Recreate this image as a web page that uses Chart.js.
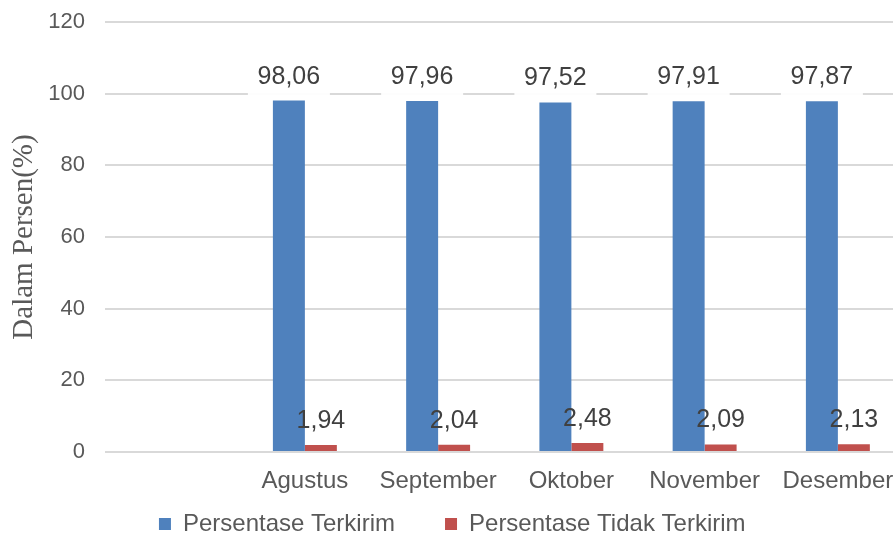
<!DOCTYPE html>
<html>
<head>
<meta charset="utf-8">
<script src="https://cdn.jsdelivr.net/npm/chart.js@4"></script>
<style>
  html, body { margin: 0; padding: 0; background: #fff; overflow: hidden; }
  #wrap { position: relative; width: 906px; height: 546px; }
</style>
</head>
<body>
<div id="wrap"><canvas id="reportChart"></canvas></div>
<script>
// Months (first slot is left empty in the original chart)
const months = ['', 'Agustus', 'September', 'Oktober', 'November', 'Desember'];
const terkirim = [null, 98.06, 97.96, 97.52, 97.91, 97.87];
const tidakTerkirim = [null, 1.94, 2.04, 2.48, 2.09, 2.13];
const yTicks = [0, 20, 40, 60, 80, 100, 120];

const textColor = '#595959';
const sans = '"Liberation Sans", Arial, sans-serif';

// value labels above each bar, comma as decimal separator
const valueLabels = {
  id: 'valueLabels',
  afterDatasetsDraw(chart) {
    const ctx = chart.ctx;
    ctx.save();
    ctx.font = '25px ' + sans;
    ctx.textAlign = 'center';
    ctx.textBaseline = 'middle';
    chart.data.datasets.forEach((ds, i) => {
      const meta = chart.getDatasetMeta(i);
      meta.data.forEach((bar, j) => {
        const v = ds.data[j];
        if (v === null) return;
        const cx = bar.x;
        const cy = bar.y - 24;
        if (i === 0) {
          ctx.fillStyle = 'rgba(255,255,255,0.95)';
          ctx.fillRect(cx - 41, cy - 17, 82, 37);
        }
        ctx.fillStyle = '#404040';
        ctx.fillText(v.toFixed(2).replace('.', ','), cx, cy);
      });
    });
    ctx.restore();
  }
};

document.addEventListener('DOMContentLoaded', function() {
  const ctx = document.getElementById('reportChart').getContext('2d');

  new Chart(ctx, {
    type: 'bar',
    data: {
      labels: months,
      datasets: [
        {
          label: 'Persentase Terkirim',
          data: terkirim,
          backgroundColor: '#4F81BD',
          borderWidth: 0
        },
        {
          label: 'Persentase Tidak Terkirim',
          data: tidakTerkirim,
          backgroundColor: '#C0504D',
          borderWidth: 0
        }
      ]
    },
    options: {
      responsive: true,
      maintainAspectRatio: false,
      animation: false,
      categoryPercentage: 0.48,
      barPercentage: 1.0,
      layout: { padding: { top: 22, right: 1.5, left: 0, bottom: 0 } },
      plugins: {
        tooltip: { enabled: false },
        legend: {
          position: 'bottom',
          labels: {
            boxWidth: 12,
            boxHeight: 12,
            padding: 10,
            color: textColor,
            font: { family: sans, size: 24 },
            generateLabels(chart) {
              const items = Chart.defaults.plugins.legend.labels.generateLabels(chart);
              items[0].text += '      ';
              return items;
            }
          }
        }
      },
      scales: {
        x: {
          grid: { display: false, drawTicks: false },
          border: { display: false },
          ticks: {
            color: textColor,
            padding: 15,
            maxRotation: 0,
            font: { family: sans, size: 24 }
          },
          afterFit(scale) {
            scale.height = 50;
            scale.paddingLeft = 0;
            scale.paddingRight = 0;
          }
        },
        y: {
          min: 0,
          max: 120,
          afterBuildTicks(scale) {
            scale.ticks = yTicks.map(v => ({ value: v }));
          },
          grid: { color: '#d9d9d9', lineWidth: 2, drawTicks: false },
          border: { display: false },
          ticks: {
            color: textColor,
            padding: 20,
            font: { family: sans, size: 22 }
          },
          title: {
            display: true,
            text: 'Dalam Persen(%)',
            color: textColor,
            padding: { top: 7, bottom: 0 },
            font: { family: '"Liberation Serif", "Times New Roman", serif', size: 29 }
          },
          afterFit(scale) {
            scale.width = 105;
            scale.paddingTop = 0;
            scale.paddingBottom = 0;
          }
        }
      }
    },
    plugins: [valueLabels]
  });
});
</script>
</body>
</html>
